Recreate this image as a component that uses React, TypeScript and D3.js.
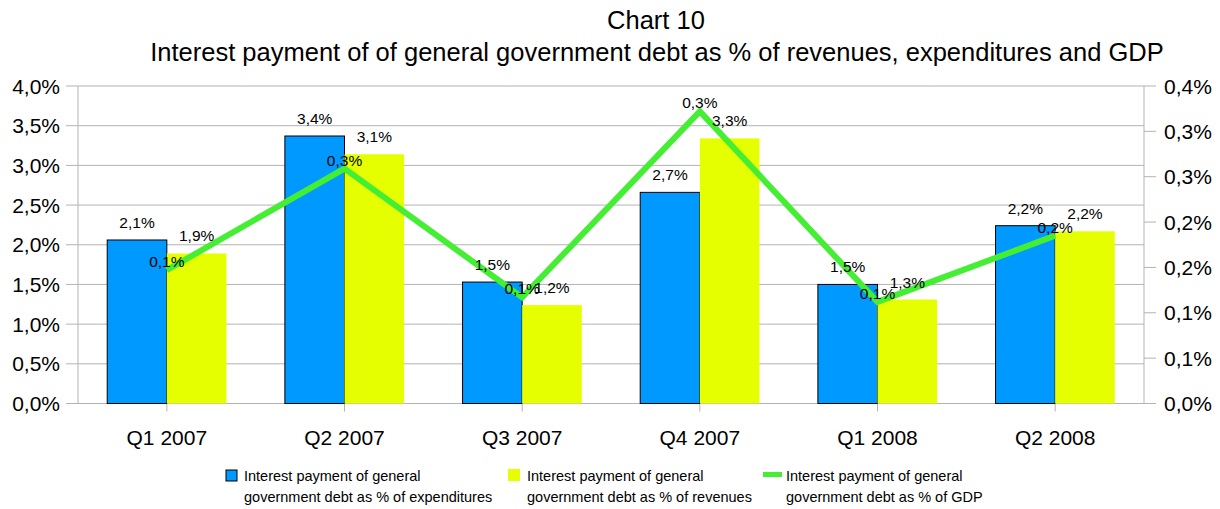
import React from 'react';
import * as d3 from 'd3';

const categories = ['Q1 2007', 'Q2 2007', 'Q3 2007', 'Q4 2007', 'Q1 2008', 'Q2 2008'];
const expenditures = [2.06, 3.37, 1.53, 2.66, 1.5, 2.24];
const revenues = [1.89, 3.14, 1.24, 3.34, 1.31, 2.17];
const gdp = [0.147, 0.259, 0.117, 0.322, 0.112, 0.185];
const leftTicks = [0, 0.5, 1, 1.5, 2, 2.5, 3, 3.5, 4];
const rightTicks = [0, 0.05, 0.1, 0.15, 0.2, 0.25, 0.3, 0.35];
const rightTickLabels = ['0,0%', '0,1%', '0,1%', '0,2%', '0,2%', '0,3%', '0,3%', '0,4%'];
const legendLabels = [
  ['Interest payment of general', 'government debt as % of expenditures'],
  ['Interest payment of general', 'government debt as % of revenues'],
  ['Interest payment of general', 'government debt as % of GDP'],
];

const W = 1220;
const H = 509;
const FONT = '"Liberation Sans", Arial, sans-serif';
const BLUE = '#0099ff';
const YELLOW = '#e6ff00';
const GREEN = '#44ee33';

const fmt = (v: number) => v.toFixed(1).replace('.', ',') + '%';

const App: React.FC = () => {
  const left = 78;
  const right = 1144;
  const top = 86;
  const bottom = 403.5;

  const x = d3.scaleBand<string>().domain(categories).range([left, right]).padding(0);
  const bw = x.bandwidth();
  const x1 = d3
    .scaleBand<string>()
    .domain(['exp', 'rev'])
    .range([0, bw])
    .paddingInner(0)
    .paddingOuter(0.49);
  const y = d3.scaleLinear().domain([0, 4]).range([bottom, top]);
  const y2 = d3.scaleLinear().domain([0, 0.35]).range([bottom, top]);

  const line = d3
    .line<number>()
    .x((_, i) => (x(categories[i]) as number) + bw / 2)
    .y((d) => y2(d));

  return (
    <svg
      width={W}
      height={H}
      style={{ position: 'absolute', left: 0, top: 0, background: '#fff' }}
      fontFamily={FONT}
    >
      <rect width={W} height={H} fill="#fff" />
      {/* title */}
      <text x={656} y={29} fontSize={25.5} textAnchor="middle" fill="#000">
        Chart 10
      </text>
      <text x={657} y={61} fontSize={25.5} textAnchor="middle" fill="#000">
        Interest payment of of general government debt as % of revenues, expenditures and GDP
      </text>

      {/* grid */}
      {leftTicks.map((t) => (
        <g key={'g' + t}>
          <line x1={left} x2={right} y1={y(t)} y2={y(t)} stroke="#b3b3b3" strokeWidth={1} />
          <line x1={left - 12} x2={left} y1={y(t)} y2={y(t)} stroke="#b3b3b3" strokeWidth={1} />
          <text x={60} y={y(t) + 7.5} fontSize={21} textAnchor="end" fill="#000">
            {fmt(t)}
          </text>
        </g>
      ))}
      <line x1={left} x2={left} y1={top} y2={bottom} stroke="#b3b3b3" />
      <line x1={right} x2={right} y1={top} y2={bottom} stroke="#b3b3b3" />
      {rightTicks.map((t, i) => (
        <g key={'r' + t}>
          <line x1={right} x2={right + 12} y1={y2(t)} y2={y2(t)} stroke="#b3b3b3" />
          <text x={1164} y={y2(t) + 7.5} fontSize={21} fill="#000">
            {rightTickLabels[i]}
          </text>
        </g>
      ))}

      {/* x axis */}
      <line x1={left} x2={right} y1={bottom} y2={bottom} stroke="#b3b3b3" />
      {categories.map((c) => (
        <g key={c}>
          <line
            x1={(x(c) as number) + bw / 2}
            x2={(x(c) as number) + bw / 2}
            y1={bottom}
            y2={bottom + 8}
            stroke="#b3b3b3"
          />
          <text x={(x(c) as number) + bw / 2} y={445} fontSize={21} textAnchor="middle" fill="#000">
            {c}
          </text>
        </g>
      ))}

      {/* bars */}
      {categories.map((c, i) => {
        const bx = x(c) as number;
        const xe = bx + (x1('exp') as number);
        const xr = bx + (x1('rev') as number);
        const w = x1.bandwidth();
        return (
          <g key={'b' + c}>
            <rect
              x={xe}
              y={y(expenditures[i])}
              width={w}
              height={bottom - y(expenditures[i])}
              fill={BLUE}
              stroke="#000"
              strokeWidth={1}
            />
            <rect x={xr} y={y(revenues[i])} width={w} height={bottom - y(revenues[i])} fill={YELLOW} />
          </g>
        );
      })}

      {/* line */}
      <path d={line(gdp) || ''} fill="none" stroke={GREEN} strokeWidth={6} strokeLinejoin="miter" />

      {/* labels */}
      {categories.map((c, i) => {
        const bx = x(c) as number;
        const w = x1.bandwidth();
        const xe = bx + (x1('exp') as number) + w / 2;
        const xr = bx + (x1('rev') as number) + w / 2;
        const cx = bx + bw / 2;
        return (
          <g key={'l' + c} fontSize={15.5} fill="#000" textAnchor="middle">
            <text x={xe} y={y(expenditures[i]) - 12}>
              {fmt(expenditures[i])}
            </text>
            <text x={xr} y={y(revenues[i]) - 12}>
              {fmt(revenues[i])}
            </text>
            <text x={cx} y={y2(gdp[i]) - 3}>
              {fmt(gdp[i])}
            </text>
          </g>
        );
      })}

      {/* legend */}
      <g fontSize={14.5} fill="#000">
        <rect x={226} y={470} width={11} height={11} fill={BLUE} stroke="#000" strokeWidth={1} />
        <text x={244} y={481}>
          {legendLabels[0][0]}
        </text>
        <text x={244} y={502}>
          {legendLabels[0][1]}
        </text>
        <rect x={508} y={469} width={12} height={12} fill={YELLOW} />
        <text x={527} y={481}>
          {legendLabels[1][0]}
        </text>
        <text x={527} y={502}>
          {legendLabels[1][1]}
        </text>
        <rect x={763} y={472} width={19} height={5} fill={GREEN} />
        <text x={786} y={481}>
          {legendLabels[2][0]}
        </text>
        <text x={786} y={502}>
          {legendLabels[2][1]}
        </text>
      </g>
    </svg>
  );
};

export default App;
